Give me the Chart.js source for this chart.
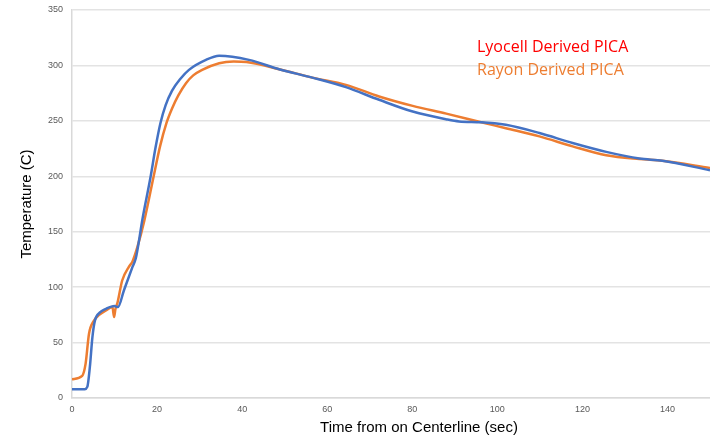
<!DOCTYPE html>
<html>
<head>
<meta charset="utf-8">
<script src="https://cdn.jsdelivr.net/npm/chart.js@4"></script>
<style>
html,body{margin:0;padding:0;background:#fff;}
#wrap{width:710px;height:444px;position:relative;}
</style>
</head>
<body>
<div id="wrap"><canvas id="c" width="710" height="444"></canvas></div>
<script>
const seriesNames = ["Lyocell Derived PICA", "Rayon Derived PICA"];
const lyocellTime = [0, 3, 3.6, 4.2, 4.8, 5.4, 6.5, 8, 10, 10.8, 12.2, 14.2, 15, 15.8, 16.5, 18.5, 19.6, 20.8, 22.0, 23.5, 25.5, 27.5, 31.5, 34.6, 41.6, 48.7, 56.5, 64.4, 72.2, 80.1, 87.9, 91, 96.2, 102, 109.9, 117.7, 125.6, 133.4, 138.8, 150];
const lyocellTemp = [8, 8, 10, 28, 55, 70, 77, 80.5, 83, 82, 97, 118, 126, 143, 160, 200, 225, 248, 264, 277, 288, 296, 305, 308.7, 305, 296.6, 289, 280.4, 269, 258.4, 251.5, 249.5, 248.8, 246.4, 239, 230, 222, 216, 214, 205.5];
const rayonTime = [0, 2.4, 3.2, 4, 5.2, 6.4, 8, 9.5, 9.9, 10.2, 10.7, 11.8, 13.4, 14.2, 15.4, 17, 19.2, 20.7, 22.2, 23.5, 25, 26.8, 28.5, 30.6, 34.6, 38, 41, 48.7, 56.5, 64.4, 72.2, 80.1, 88, 96.2, 102, 109.9, 117.7, 125.6, 133.4, 138.8, 150];
const rayonTemp = [17, 20, 31, 58, 70, 75, 79, 82, 73, 80, 86, 106, 118.5, 123, 136.5, 160, 200, 227, 248, 261, 273, 284, 291, 296, 302, 303.5, 303, 296.6, 289, 282.5, 272, 263.5, 256.5, 248.8, 243.4, 236, 227, 219, 215.5, 214, 207.5];
const xTicks = [0, 20, 40, 60, 80, 100, 120, 140];
const yTicks = [0, 50, 100, 150, 200, 250, 300, 350];
const xTitle = "Time from on Centerline (sec)";
const yTitle = "Temperature (C)";

const toPts = (xs, ys) => xs.map((x, i) => ({x: x, y: ys[i]}));

const textPlugin = {
  id: 'texts',
  afterDraw(chart) {
    const ctx = chart.ctx;
    ctx.save();
    ctx.textAlign = 'left';
    ctx.textBaseline = 'alphabetic';
    ctx.font = '16px "Open Sans"';
    ctx.fillStyle = '#ff0000';
    ctx.fillText(seriesNames[0], 477, 52);
    ctx.fillStyle = '#ed7d31';
    ctx.fillText(seriesNames[1], 477, 75);
    ctx.fillStyle = '#000000';
    ctx.font = '15px "Liberation Sans", Arial, sans-serif';
    ctx.textAlign = 'center';
    ctx.textBaseline = 'middle';
    ctx.fillText(xTitle, 419, 428);
    ctx.restore();
  }
};

new Chart(document.getElementById('c'), {
  type: 'line',
  data: {
    datasets: [
      {label: seriesNames[0], data: toPts(lyocellTime, lyocellTemp), borderColor: '#4472c4', backgroundColor: '#4472c4', borderWidth: 2.5, pointRadius: 0, cubicInterpolationMode: 'monotone', fill: false},
      {label: seriesNames[1], data: toPts(rayonTime, rayonTemp), borderColor: '#ed7d31', backgroundColor: '#ed7d31', borderWidth: 2.5, pointRadius: 0, cubicInterpolationMode: 'monotone', fill: false}
    ]
  },
  options: {
    responsive: false,
    animation: false,
    devicePixelRatio: 1,
    layout: {padding: {top: 10, right: 0, left: 0, bottom: 0}},
    plugins: {legend: {display: false}, tooltip: {enabled: false}},
    scales: {
      x: {
        type: 'linear', min: 0, max: 150,
        afterBuildTicks: s => { s.ticks = xTicks.map(v => ({value: v})); },
        afterFit: s => { s.height = 46; s.paddingLeft = 0; s.paddingRight = 0; },
        grid: {display: false, drawTicks: false},
        border: {display: true, color: '#d9d9d9', width: 1.5},
        ticks: {padding: 6, color: '#595959', font: {size: 9, family: '"Liberation Sans", Arial, sans-serif'}, maxRotation: 0}
      },
      y: {
        type: 'linear', min: 0, max: 350,
        afterBuildTicks: s => { s.ticks = yTicks.map(v => ({value: v})); },
        afterFit: s => { s.width = 72; s.paddingTop = 0; s.paddingBottom = 0; },
        grid: {color: '#e3e3e3', lineWidth: 1.5, drawTicks: false},
        border: {display: true, color: '#d9d9d9', width: 1.5},
        ticks: {padding: 9, color: '#595959', font: {size: 9, family: '"Liberation Sans", Arial, sans-serif'}},
        title: {display: true, text: yTitle, color: '#000000', padding: {top: 18, bottom: 18}, font: {size: 15, family: '"Liberation Sans", Arial, sans-serif'}}
      }
    }
  },
  plugins: [textPlugin]
});
</script>
</body>
</html>
